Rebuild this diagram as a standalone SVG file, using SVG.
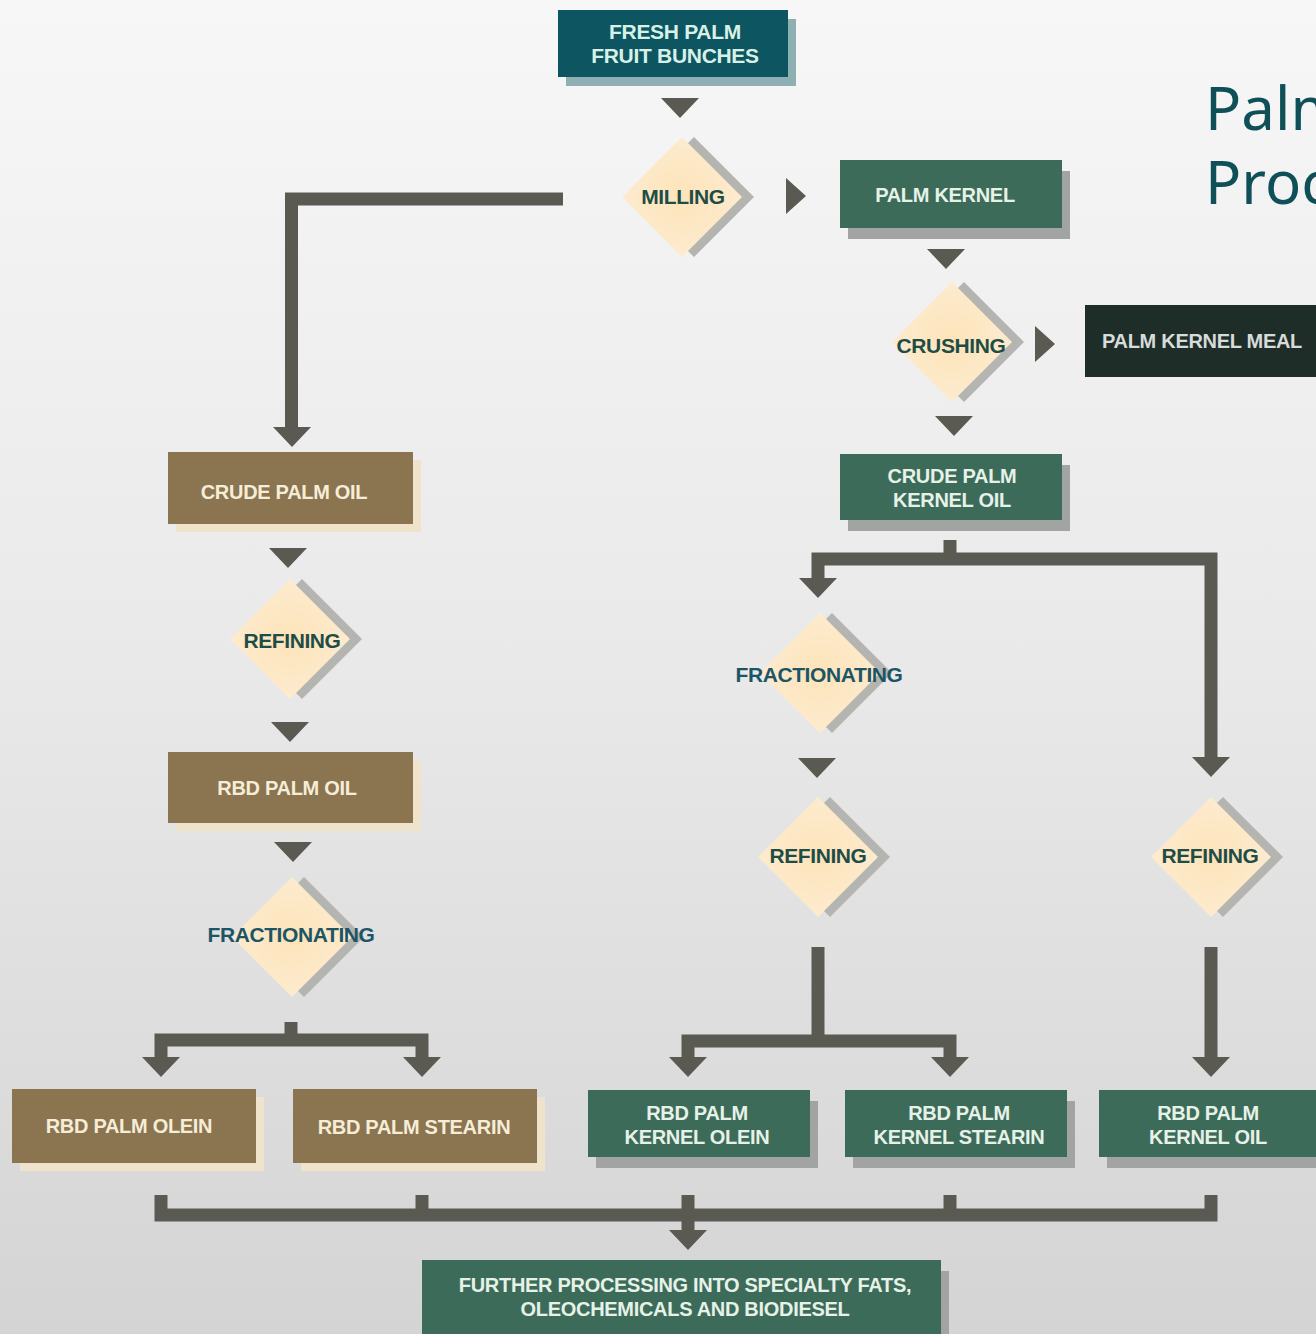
<svg xmlns="http://www.w3.org/2000/svg" xmlns:xlink="http://www.w3.org/1999/xlink" width="1316" height="1334" viewBox="0 0 1316 1334">
<style>
.lbl{font-family:"Liberation Sans",Arial,sans-serif;font-weight:bold;font-size:20px;text-anchor:middle;letter-spacing:-0.3px}
.onGreen{fill:#e6f2e8}
.onBrown{fill:#f6edd8}
.onTeal{fill:#d8f1e6}
.onDark{fill:#d6dcd9}
.dtxt{font-family:"Liberation Sans",Arial,sans-serif;font-weight:bold;font-size:21px;text-anchor:middle;fill:#1f4d45;letter-spacing:-0.4px}
.ftxt{fill:#1c5566}
.green{fill:#3d6b5a}
.brown{fill:#8b7450}
.teal{fill:#0d5561}
.dark{fill:#1f2d29}
.gshadow{fill:#a1a4a2}
.bshadow{fill:#efe4cb}
.tshadow{fill:#8fb0b3}
.conn{fill:none;stroke:#5a5a52;stroke-width:13;stroke-linejoin:miter;stroke-linecap:butt}
.head{fill:#5a5a52}
.title{font-family:"Noto Sans","Open Sans",sans-serif;font-size:60px;fill:#0e4f58}
</style>
<defs>
<linearGradient id="bg" x1="0" y1="0" x2="0" y2="1">
<stop offset="0" stop-color="#f7f7f7"/>
<stop offset="0.5" stop-color="#e9e9e9"/>
<stop offset="1" stop-color="#d4d4d4"/>
</linearGradient>
<radialGradient id="dfill" cx="0.5" cy="0.5" r="0.6">
<stop offset="0" stop-color="#fde3b9"/>
<stop offset="1" stop-color="#fdedd3"/>
</radialGradient>
<g id="dia">
<polygon points="12,-60 72,0 12,60 -48,0" fill="#b4b4b0"/>
<polygon points="0,-60 60,0 0,60 -60,0" fill="url(#dfill)"/>
</g>
<path id="ah" class="head" d="M-19,0 H19 L0,20 Z"/>
<path id="ar" class="head" d="M0,-18 L20,0 L0,18 Z"/>
</defs>

<rect x="0" y="0" width="1316" height="1334" fill="url(#bg)"/>

<g id="title">
<text class="title" x="1205" y="130">Palm</text>
<text class="title" x="1205" y="204">Proc</text>
</g>

<g id="connectors">
<use href="#ah" x="680" y="98"/>
<use href="#ar" x="786" y="196"/>
<path class="conn" d="M563,199 H291.5 V430"/>
<use href="#ah" x="292" y="427"/>
<use href="#ah" x="946" y="249"/>
<use href="#ar" x="1035" y="344"/>
<use href="#ah" x="954" y="416"/>
<path class="conn" d="M950,540 V559"/>
<path class="conn" d="M818,582 V559 H1211 V760"/>
<use href="#ah" x="818" y="578"/>
<use href="#ah" x="1211" y="757"/>
<use href="#ah" x="817" y="758"/>
<path class="conn" d="M818,947 V1041"/>
<path class="conn" d="M688,1060 V1041 H950 V1060"/>
<use href="#ah" x="688" y="1057"/>
<use href="#ah" x="950" y="1057"/>
<path class="conn" d="M1211,947 V1060"/>
<use href="#ah" x="1211" y="1057"/>
<use href="#ah" x="288" y="548"/>
<use href="#ah" x="290" y="722"/>
<use href="#ah" x="293" y="842"/>
<path class="conn" d="M291,1022 V1040"/>
<path class="conn" d="M161,1060 V1040 H422 V1060"/>
<use href="#ah" x="161" y="1057"/>
<use href="#ah" x="422" y="1057"/>
<path class="conn" d="M161,1195 V1215 H1211 V1195"/>
<path class="conn" d="M422,1195 V1215"/>
<path class="conn" d="M950,1195 V1215"/>
<path class="conn" d="M688,1195 V1234"/>
<use href="#ah" x="688" y="1230"/>
</g>

<g id="fresh-palm-fruit-bunches">
<rect class="tshadow" x="566" y="19" width="230" height="67"/>
<rect class="teal" x="558" y="10" width="230" height="67"/>
<text class="lbl onTeal" x="675" y="39" style="font-size:21px">FRESH PALM</text>
<text class="lbl onTeal" x="675" y="63" style="font-size:21px">FRUIT BUNCHES</text>
</g>

<g id="milling">
<use href="#dia" x="682" y="197"/>
<text class="dtxt" x="683" y="204">MILLING</text>
</g>

<g id="palm-kernel">
<rect class="gshadow" x="848" y="171" width="222" height="68"/>
<rect class="green" x="840" y="160" width="222" height="68"/>
<text class="lbl onGreen" x="945" y="202">PALM KERNEL</text>
</g>

<g id="crushing">
<use href="#dia" x="952" y="342"/>
<text class="dtxt" x="951" y="353">CRUSHING</text>
</g>

<g id="palm-kernel-meal">
<rect class="dark" x="1085" y="305" width="240" height="72"/>
<text class="lbl onDark" x="1102" y="348" style="text-anchor:start">PALM KERNEL MEAL</text>
</g>

<g id="crude-palm-kernel-oil">
<rect class="gshadow" x="848" y="465" width="222" height="66"/>
<rect class="green" x="840" y="454" width="222" height="66"/>
<text class="lbl onGreen" x="952" y="483">CRUDE PALM</text>
<text class="lbl onGreen" x="952" y="507">KERNEL OIL</text>
</g>

<g id="fractionating-kernel">
<use href="#dia" x="820" y="673"/>
<text class="dtxt ftxt" x="819" y="682">FRACTIONATING</text>
</g>

<g id="refining-kernel-fraction">
<use href="#dia" x="818" y="857"/>
<text class="dtxt" x="818" y="863">REFINING</text>
</g>

<g id="refining-kernel-oil">
<use href="#dia" x="1211" y="857"/>
<text class="dtxt" x="1210" y="863">REFINING</text>
</g>

<g id="crude-palm-oil">
<rect class="bshadow" x="176" y="460" width="245" height="72"/>
<rect class="brown" x="168" y="452" width="245" height="72"/>
<text class="lbl onBrown" x="284" y="499">CRUDE PALM OIL</text>
</g>

<g id="refining-palm">
<use href="#dia" x="290" y="639"/>
<text class="dtxt" x="292" y="648">REFINING</text>
</g>

<g id="rbd-palm-oil">
<rect class="bshadow" x="176" y="760" width="245" height="71"/>
<rect class="brown" x="168" y="752" width="245" height="71"/>
<text class="lbl onBrown" x="287" y="795">RBD PALM OIL</text>
</g>

<g id="fractionating-palm">
<use href="#dia" x="292" y="937"/>
<text class="dtxt ftxt" x="291" y="942">FRACTIONATING</text>
</g>

<g id="rbd-palm-olein">
<rect class="bshadow" x="20" y="1097" width="244" height="74"/>
<rect class="brown" x="12" y="1089" width="244" height="74"/>
<text class="lbl onBrown" x="129" y="1133">RBD PALM OLEIN</text>
</g>

<g id="rbd-palm-stearin">
<rect class="bshadow" x="301" y="1097" width="244" height="74"/>
<rect class="brown" x="293" y="1089" width="244" height="74"/>
<text class="lbl onBrown" x="414" y="1134">RBD PALM STEARIN</text>
</g>

<g id="rbd-palm-kernel-olein">
<rect class="gshadow" x="596" y="1101" width="222" height="67"/>
<rect class="green" x="588" y="1090" width="222" height="67"/>
<text class="lbl onGreen" x="697" y="1120">RBD PALM</text>
<text class="lbl onGreen" x="697" y="1144">KERNEL OLEIN</text>
</g>

<g id="rbd-palm-kernel-stearin">
<rect class="gshadow" x="853" y="1101" width="222" height="67"/>
<rect class="green" x="845" y="1090" width="222" height="67"/>
<text class="lbl onGreen" x="959" y="1120">RBD PALM</text>
<text class="lbl onGreen" x="959" y="1144">KERNEL STEARIN</text>
</g>

<g id="rbd-palm-kernel-oil">
<rect class="gshadow" x="1107" y="1101" width="222" height="67"/>
<rect class="green" x="1099" y="1090" width="222" height="67"/>
<text class="lbl onGreen" x="1208" y="1120">RBD PALM</text>
<text class="lbl onGreen" x="1208" y="1144">KERNEL OIL</text>
</g>

<g id="further-processing">
<rect class="gshadow" x="430" y="1271" width="519" height="70"/>
<rect class="green" x="422" y="1260" width="519" height="80"/>
<text class="lbl onGreen" x="685" y="1292">FURTHER PROCESSING INTO SPECIALTY FATS,</text>
<text class="lbl onGreen" x="685" y="1316">OLEOCHEMICALS AND BIODIESEL</text>
</g>
</svg>
